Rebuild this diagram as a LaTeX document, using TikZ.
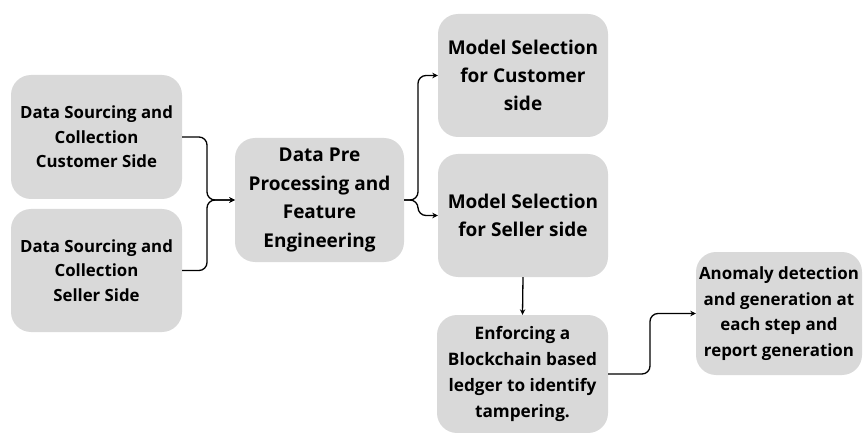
\documentclass[tikz,border=0pt]{standalone}
\usepackage{fontspec}
\setmainfont{Open Sans}
\usetikzlibrary{arrows.meta}
\definecolor{boxgray}{HTML}{D9D9D9}
\tikzset{
  stage/.style={fill=boxgray, rounded corners=20pt, align=center, inner sep=0pt, font=\bfseries},
  link/.style={line width=1.3pt, rounded corners=8pt, -{Stealth[length=5.5pt,width=5.5pt]}}
}
\begin{document}
\begin{tikzpicture}[x=1pt,y=-1pt]
\useasboundingbox (0,0) rectangle (863,433);
\node[stage, minimum width=171pt, minimum height=124pt, font=\bfseries\fontsize{16.8}{24.5}\selectfont] (A) at (96.5,137) {Data Sourcing and\\Collection\\Customer Side};
\node[stage, minimum width=171pt, minimum height=123pt, font=\bfseries\fontsize{16.8}{24.5}\selectfont] (B) at (96.5,270.5) {Data Sourcing and\\Collection\\Seller Side};
\node[stage, minimum width=169pt, minimum height=124pt, font=\bfseries\fontsize{19}{28.5}\selectfont] (C) at (319.5,200) {Data Pre\\Processing and\\Feature\\Engineering};
\node[stage, minimum width=170pt, minimum height=123pt, font=\bfseries\fontsize{19}{28}\selectfont] (D) at (523,75.5) {Model Selection\\for Customer\\side};
\node[stage, minimum width=170pt, minimum height=123pt, font=\bfseries\fontsize{19}{28}\selectfont] (E) at (523,215.5) {Model Selection\\for Seller side};
\node[stage, minimum width=171pt, minimum height=118pt, font=\bfseries\fontsize{17.2}{25.7}\selectfont] (F) at (522.5,374) {Enforcing a\\Blockchain based\\ledger to identify\\tampering.};
\node[stage, minimum width=166pt, minimum height=123pt, font=\bfseries\fontsize{16.9}{25.7}\selectfont] (G) at (779,313.5) {Anomaly detection\\and generation at\\each step and\\report generation};
\coordinate (m1) at (207,200);
\coordinate (s1) at (418,200);
\coordinate (t1) at (650,374);
\draw[link] (A.east) -| (m1) -- (C.west);
\draw[link] (B.east) -| (m1) -- (C.west);
\draw[link] (C.east) -- (s1) |- (D.west);
\draw[link] (C.east) -- (s1) |- (E.west);
\draw[link] (E.south) -- (F.north);
\draw[link] (F.east) -- (t1) |- (G.west);
\end{tikzpicture}
\end{document}
